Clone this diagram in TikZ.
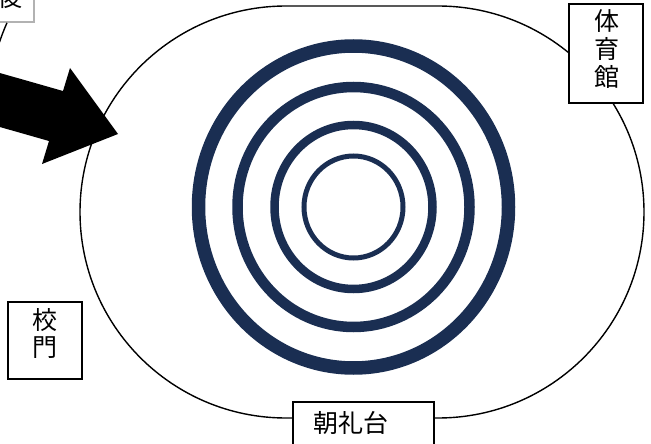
\documentclass[tikz,border=0pt]{standalone}
\usepackage{fontspec}
\newfontfamily\jp{Noto Sans CJK JP}
\definecolor{navy}{RGB}{26,46,82}
\begin{document}
\begin{tikzpicture}[x=1pt,y=-1pt,
  boxstyle/.style={draw=black, line width=1.6pt, fill=white, inner sep=0pt, rectangle},
  lbl/.style={font=\jp\fontsize{25}{27.5}\selectfont, inner sep=0pt, align=center},
  ring/.style={draw=navy}]
\useasboundingbox (0,0) rectangle (651,444);
\clip (0,0) rectangle (651,444);
% outer track
\draw[line width=1.4pt, rounded corners=206pt] (80,6) rectangle (644,418);
% big arrow
\fill[black] (-30,64.5) -- (63,91) -- (70,68) -- (118,134) -- (42,164) -- (49,141) -- (-30,118.5) -- cycle;
% rings
\draw[ring, line width=13.5pt] (353.5,207) ellipse [x radius=155pt, y radius=161pt];
\draw[ring, line width=10.5pt] (353.5,207) ellipse [x radius=116pt, y radius=120pt];
\draw[ring, line width=8.5pt] (353.5,207) ellipse [x radius=79pt, y radius=82pt];
\draw[ring, line width=5pt] (353.5,207) ellipse [x radius=49.5pt, y radius=51pt];
% top-left box
\node[boxstyle, draw=gray!60, minimum width=74pt, minimum height=62pt] (ushiro) at (-3,-9) {};
\node[lbl] (ushirot) at (10.5,-3) {後};
\coordinate (uend) at (-4,52);
\draw[line width=1.4pt] ([xshift=10pt]ushiro.south) .. controls (3,32) .. (uend);
% gym
\node[boxstyle, minimum width=74pt, minimum height=99pt] (gym) at (606,53.5) {};
\node[lbl, font=\jp\fontsize{25}{28}\selectfont] (gymt) at (607,49) {体\\育\\館};
% gate
\node[boxstyle, minimum width=74pt, minimum height=77pt] (gate) at (45,340.5) {};
\node[lbl, font=\jp\fontsize{25}{27}\selectfont] (gatet) at (45,333.5) {校\\門};
% stage
\node[boxstyle, minimum width=141pt, minimum height=44pt] (stage) at (363.5,424) {};
\node[lbl] (staget) at (351,423) {朝礼台};
\end{tikzpicture}
\end{document}
